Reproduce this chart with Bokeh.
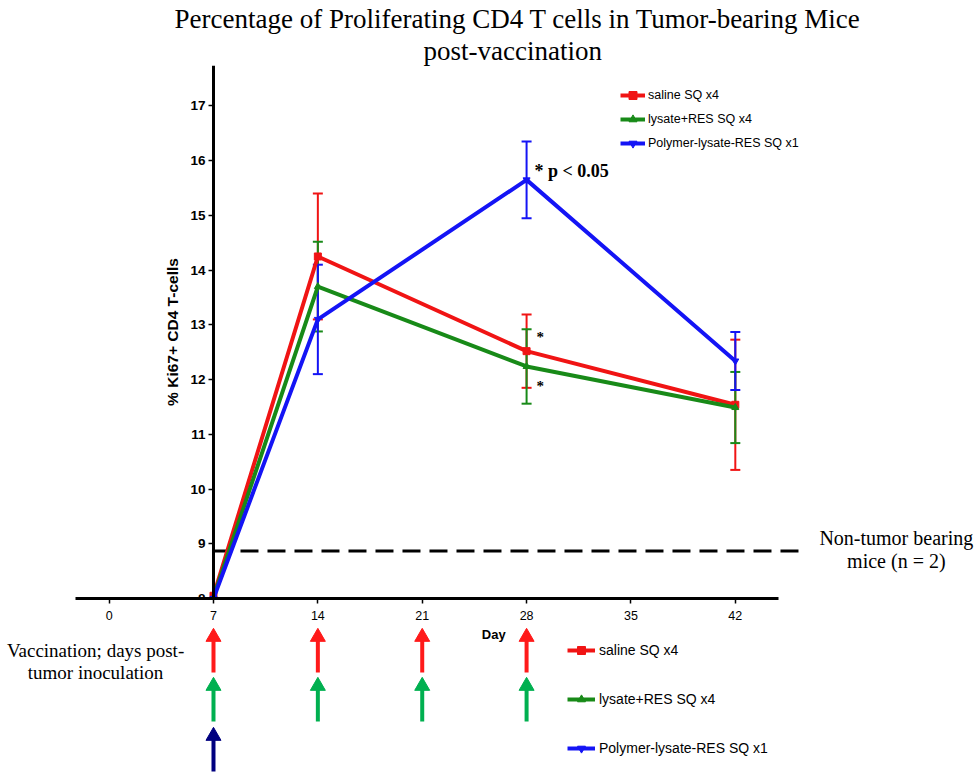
from bokeh.plotting import figure
from bokeh.layouts import column
from bokeh.models import (ColumnDataSource, Whisker, TeeHead, Legend, LegendItem,
                          Label, FixedTicker, Title, Range1d)
from bokeh.embed import file_html
from bokeh.resources import INLINE

# ---- data -------------------------------------------------------------
days = [7, 14, 28, 42]

saline_mean = [8.05, 14.25, 12.52, 11.54]
saline_err = [0.0, 1.15, 0.67, 1.19]

lysate_mean = [8.02, 13.70, 12.24, 11.49]
lysate_err = [0.0, 0.82, 0.68, 0.65]

polymer_mean = [8.00, 13.10, 15.65, 12.34]
polymer_err = [0.0, 1.00, 0.70, 0.53]

non_tumor_level = 8.87          # non-tumor bearing mice (n = 2)

saline_vacc_days = [7, 14, 21, 28]
lysate_vacc_days = [7, 14, 21, 28]
polymer_vacc_days = [7]

x_ticks = [0, 7, 14, 21, 28, 35, 42]
y_ticks = [8, 9, 10, 11, 12, 13, 14, 15, 16, 17]

labels = ["saline SQ x4", "lysate+RES SQ x4", "Polymer-lysate-RES SQ x1"]
colors = ["#f01414", "#188a18", "#1414f5"]
arrow_colors = ["#ff1a1a", "#00b050", "#000080"]
markers = ["square", "triangle", "inverted_triangle"]

# ---- layout constants ---------------------------------------------------
W = 975
TOP_H, BOTTOM_H = 626, 148
X_START, X_END = -2.255, 58.11          # main frame spans 75..975 px
X2_START = -7.286                       # schedule strip spans 0..975 px
Y_START, Y_TOP = 8.0, 17.74
X_AXIS_END = 44.9
DASH_END = 46.7
SANS = "Liberation Sans"
NARROW = "Liberation Sans Narrow, Liberation Sans"
SERIF = "Liberation Serif"
INK = "black"

p = figure(width=W, height=TOP_H, output_backend="svg", toolbar_location=None,
           title=None, x_range=Range1d(X_START, X_END), y_range=Range1d(Y_START, Y_TOP),
           min_border_left=75, min_border_right=0, min_border_bottom=28,
           min_border_top=65)
p.frame_align = False
p.outline_line_color = None
p.grid.visible = False
p.background_fill_color = "white"

# titles (first added sits closest to the frame)
p.add_layout(Title(text="post-vaccination", align="left", offset=348, text_font=SERIF,
                   text_font_size="27px", text_font_style="normal", text_color=INK,
                   standoff=0), "above")
p.add_layout(Title(text="Percentage of Proliferating CD4 T cells in Tumor-bearing Mice",
                   align="left", offset=99, text_font=SERIF, text_font_size="27px",
                   text_font_style="normal", text_color=INK, standoff=0), "above")

# ---- axes ---------------------------------------------------------------
xa = p.xaxis[0]
xa.ticker = FixedTicker(ticks=x_ticks)
xa.bounds = (X_START, X_AXIS_END)
xa.axis_line_width = 3
xa.axis_line_color = INK
xa.major_tick_out = 5
xa.major_tick_in = 0
xa.major_tick_line_width = 1.5
xa.major_tick_line_color = INK
xa.minor_tick_line_color = None
xa.major_label_text_font = NARROW
xa.major_label_text_font_size = "12.5px"
xa.major_label_text_color = INK
xa.major_label_standoff = 7

ya = p.yaxis[0]
ya.fixed_location = 7
ya.ticker = FixedTicker(ticks=y_ticks)
ya.axis_line_width = 3
ya.axis_line_color = INK
ya.major_tick_out = 5
ya.major_tick_in = 0
ya.major_tick_line_width = 1.5
ya.major_tick_line_color = INK
ya.minor_tick_line_color = None
ya.major_label_text_font = SANS
ya.major_label_text_font_style = "bold"
ya.major_label_text_font_size = "13.5px"
ya.major_label_text_color = INK
ya.major_label_standoff = 3
ya.axis_label = "% Ki67+ CD4 T-cells"
ya.axis_label_text_font = SANS
ya.axis_label_text_font_style = "bold"
ya.axis_label_text_font_size = "15.5px"
ya.axis_label_text_color = INK
ya.axis_label_standoff = 6

# ---- baseline of non-tumor bearing mice ---------------------------------
p.line([7, DASH_END], [non_tumor_level, non_tumor_level], line_color=INK,
       line_width=3, line_dash="18 9")

# ---- series -------------------------------------------------------------
series = [(saline_mean, saline_err), (lysate_mean, lysate_err), (polymer_mean, polymer_err)]
items_top = []
for (mean, err), lab, col, mk in zip(series, labels, colors, markers):
    ln = p.line(days, mean, line_color=col, line_width=4)
    sc = p.scatter(days, mean, marker=mk, size=7, fill_color=col, line_color=col)
    xs = [d for d, e in zip(days, err) if e > 0]
    up = [m + e for m, e in zip(mean, err) if e > 0]
    lo = [m - e for m, e in zip(mean, err) if e > 0]
    src = ColumnDataSource(dict(x=xs, upper=up, lower=lo))
    p.add_layout(Whisker(source=src, base="x", upper="upper", lower="lower",
                         line_color=col, line_width=2,
                         upper_head=TeeHead(size=10, line_color=col, line_width=2),
                         lower_head=TeeHead(size=10, line_color=col, line_width=2)))
    items_top.append(LegendItem(label=lab, renderers=[ln, sc]))

legend_top = Legend(items=items_top, location=(545, 445), glyph_width=25, glyph_height=20,
                    label_height=20, spacing=4, padding=0, margin=0, label_standoff=3,
                    border_line_color=None, background_fill_alpha=0,
                    label_text_font=SANS, label_text_font_size="12.5px",
                    label_text_color=INK)
p.add_layout(legend_top, "center")

# ---- significance marks -------------------------------------------------
p.add_layout(Label(x=28, y=15.82, x_offset=8, text="* p < 0.05", text_font=SERIF,
                   text_font_style="bold", text_font_size="18px", text_color=INK,
                   text_baseline="middle", text_align="left"))
for yv in (12.78, 11.88):
    p.add_layout(Label(x=28, y=yv, x_offset=10, text="*", text_font=SERIF,
                       text_font_style="bold", text_font_size="15px", text_color=INK,
                       text_baseline="middle", text_align="left"))

p.add_layout(Label(x=52.8, y=9.11, text="Non-tumor bearing", text_font=SERIF,
                   text_font_size="20px", text_color=INK, text_align="center",
                   text_baseline="middle"))
p.add_layout(Label(x=52.8, y=8.69, text="mice (n = 2)", text_font=SERIF,
                   text_font_size="20px", text_color=INK, text_align="center",
                   text_baseline="middle"))

# ---- vaccination schedule strip under the day axis ---------------------
# vertical units of this strip are pixels measured downward from its top edge
q = figure(width=W, height=BOTTOM_H, output_backend="svg", toolbar_location=None,
           title=None, x_range=Range1d(X2_START, X_END), y_range=Range1d(-BOTTOM_H, 0),
           x_axis_location=None, y_axis_location=None, min_border=0)
q.frame_align = False
q.outline_line_color = None
q.grid.visible = False

q.add_layout(Label(x=25.8, y=-8, text="Day", text_font=NARROW, text_color=INK,
                   text_font_style="bold", text_font_size="13px", text_align="center",
                   text_baseline="middle"))
q.add_layout(Label(x=-0.91, y=-24, text="Vaccination; days post-", text_font=SERIF,
                   text_font_size="19px", text_color=INK, text_align="center",
                   text_baseline="middle"))
q.add_layout(Label(x=-0.91, y=-46, text="tumor inoculation", text_font=SERIF,
                   text_font_size="19px", text_color=INK, text_align="center",
                   text_baseline="middle"))

HEAD_SIZE = 15
HEAD_R = HEAD_SIZE / 2
arrow_rows = [(-46, -3), (-95, -52), (-145, -102)]     # (tail, tip)
for vdays, col, (tail, tip) in zip([saline_vacc_days, lysate_vacc_days, polymer_vacc_days],
                                   arrow_colors, arrow_rows):
    n = len(vdays)
    q.segment(x0=vdays, y0=[tail] * n, x1=vdays, y1=[tip - HEAD_R] * n,
              line_color=col, line_width=4)
    q.scatter(x=vdays, y=[tip - HEAD_R] * n, marker="triangle", size=HEAD_SIZE,
              fill_color=col, line_color=col)

# legend repeated beside the schedule; its renderers hold a single undrawn point
NAN = float("nan")
items_bottom = []
for lab, col, mk in zip(labels, colors, markers):
    ln2 = q.line(x=[NAN], y=[NAN], line_color=col, line_width=4)
    sc2 = q.scatter(x=[NAN], y=[NAN], marker=mk, size=8, fill_color=col, line_color=col)
    items_bottom.append(LegendItem(label=lab, renderers=[ln2, sc2]))
legend_bottom = Legend(items=items_bottom, location=(567, 16), glyph_width=28,
                       glyph_height=20, label_height=20, spacing=29, padding=0, margin=0,
                       label_standoff=4, border_line_color=None, background_fill_alpha=0,
                       label_text_font=SANS, label_text_font_size="14px",
                       label_text_color=INK)
q.add_layout(legend_bottom, "center")

layout = column(p, q, spacing=0)
open("out.html", "w").write(file_html(layout, INLINE))
